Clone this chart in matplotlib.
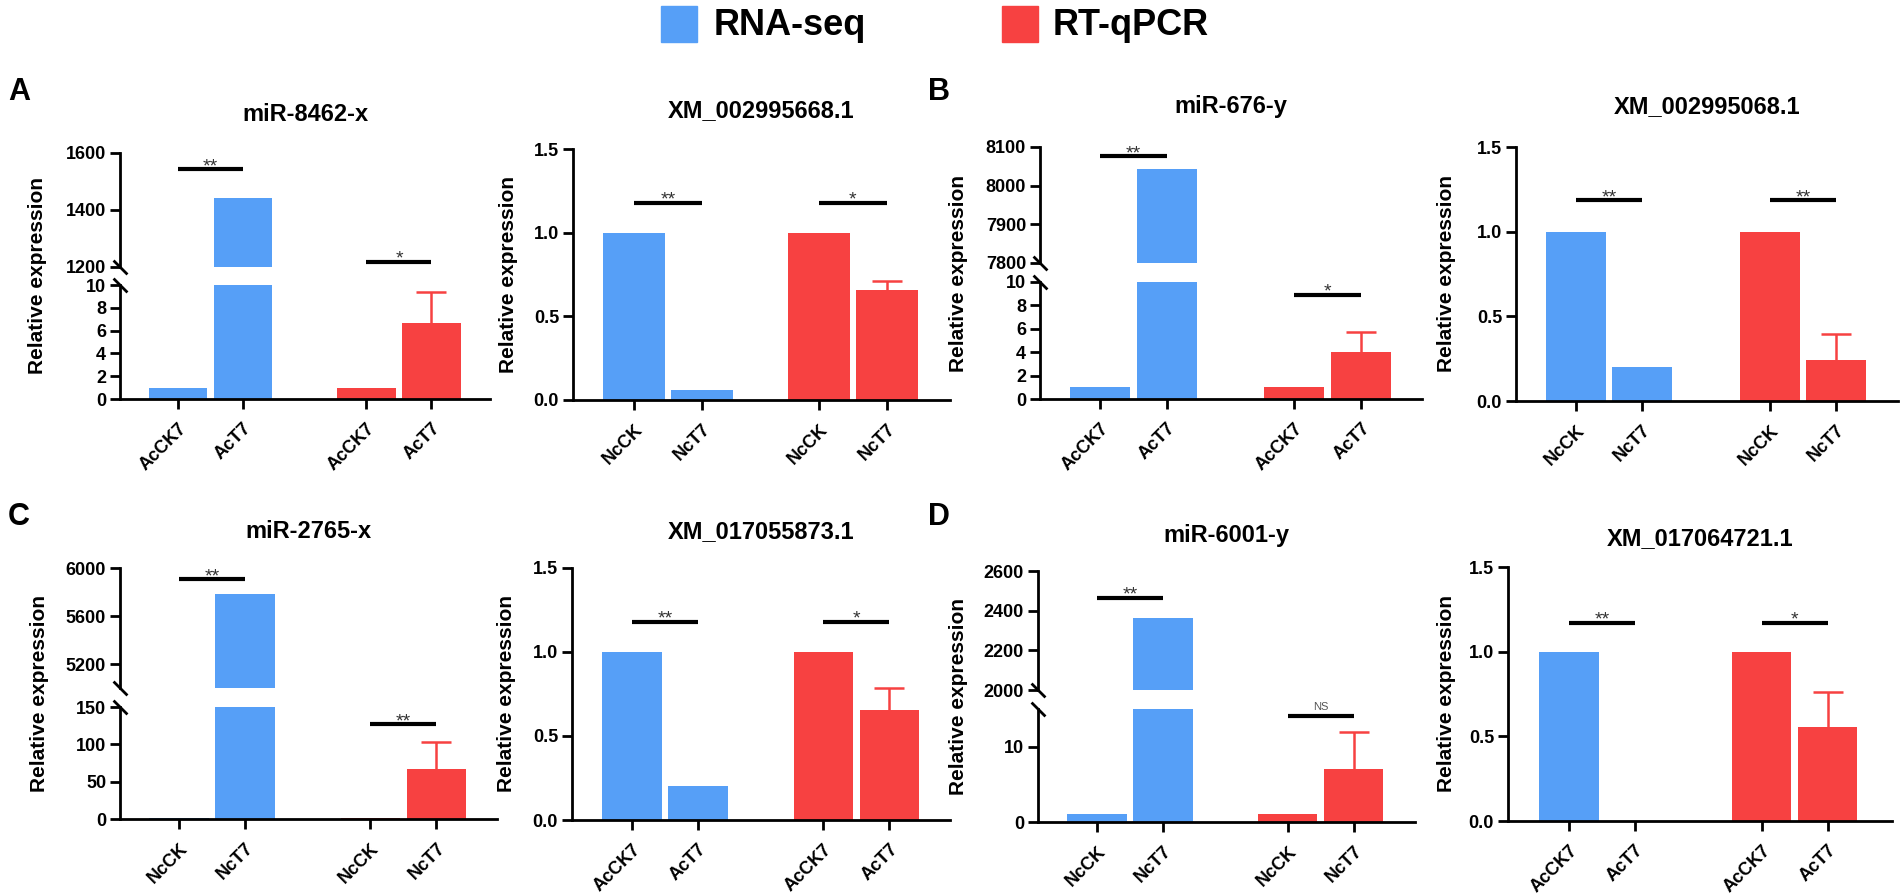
import matplotlib
matplotlib.use('Agg')
import matplotlib.pyplot as plt
from matplotlib.patches import Rectangle

plt.rcParams['font.family'] = ['Liberation Sans', 'DejaVu Sans']
plt.rcParams['font.weight'] = 'bold'

W, H = 1904, 896
BLUE = '#569ff7'
RED = '#f74141'

# ---- data ----
titles = ['miR-8462-x', 'XM_002995668.1', 'miR-676-y', 'XM_002995068.1',
          'miR-2765-x', 'XM_017055873.1', 'miR-6001-y', 'XM_017064721.1']
groups = [['AcCK7', 'AcT7'], ['NcCK', 'NcT7'], ['AcCK7', 'AcT7'], ['NcCK', 'NcT7'],
          ['NcCK', 'NcT7'], ['AcCK7', 'AcT7'], ['NcCK', 'NcT7'], ['AcCK7', 'AcT7']]
rnaseq = [[1, 1442], [1, 0.06], [1, 8043], [1, 0.2],
          [1, 5783], [1, 0.2], [1, 2365], [1, 0]]
qpcr = [[1, 6.7], [1, 0.66], [1, 4.0], [1, 0.24],
        [1, 67], [1, 0.655], [1, 7.07], [1, 0.555]]
qpcr_err = [2.7, 0.05, 1.7, 0.155, 36, 0.13, 4.93, 0.207]
sig_rnaseq = ['**', '**', '**', '**', '**', '**', '**', '**']
sig_qpcr = ['*', '*', '*', '**', '**', '*', 'NS', '*']
sig_y_rnaseq = [1544, 1.18, 8077, 1.187, 5908, 1.18, 2465, 1.17]
sig_y_qpcr = [1218, 1.18, 8.9, 1.187, 127, 1.18, 14.1, 1.17]

ylim_low = [(0, 10), (0, 1.5), (0, 10), (0, 1.5), (0, 150), (0, 1.5), (0, 15), (0, 1.5)]
ylim_up = [(1200, 1600), None, (7800, 8100), None, (5000, 6000), None, (2000, 2600), None]
yticks_low = [[0, 2, 4, 6, 8, 10], [0, 0.5, 1.0, 1.5], [0, 2, 4, 6, 8, 10], [0, 0.5, 1.0, 1.5],
              [0, 50, 100, 150], [0, 0.5, 1.0, 1.5], [0, 10], [0, 0.5, 1.0, 1.5]]
yticks_up = [[1200, 1400, 1600], None, [7800, 7900, 8000, 8100], None,
             [5200, 5600, 6000], None, [2000, 2200, 2400, 2600], None]

# ---- layout in pixels ----
# spine x, right end x, x of first tick, px per unit, group offset,
# top y, bottom y, upper-part bottom y, lower-part top y, title baseline y, ylabel x
geom = [
    (120, 490, 178, 65, 1.9, 153, 399, 267, 285, 121, 38),
    (573, 950, 634, 68, 1.72, 149, 400, None, None, 117, 508),
    (1040, 1422, 1100, 67, 1.9, 147, 399, 263, 282, 113, 958),
    (1516, 1898, 1576, 66, 1.94, 147, 401, None, None, 113, 1447),
    (120, 497, 179, 66, 1.9, 568, 819, 688, 707, 538, 40),
    (572, 950, 632, 66, 1.9, 568, 820, None, None, 538, 507),
    (1038, 1415, 1097, 66, 1.89, 571, 822, 690, 709, 542, 958),
    (1508, 1892, 1569, 66, 1.92, 567, 821, None, None, 545, 1447),
]

fig = plt.figure(figsize=(W / 100, H / 100), dpi=100)


def add_ax(x0, y0, x1, y1):
    return fig.add_axes([x0 / W, 1 - y1 / H, (x1 - x0) / W, (y1 - y0) / H])


def fmt(v, ticks):
    if max(ticks) <= 1.5:
        return '%.1f' % v
    return '%d' % v


def style(ax, show_bottom):
    for s in ['top', 'right']:
        ax.spines[s].set_visible(False)
    ax.spines['left'].set_linewidth(2)
    ax.spines['bottom'].set_linewidth(2)
    ax.tick_params(axis='y', length=7, width=2, labelsize=13, pad=3)
    if show_bottom:
        ax.tick_params(axis='x', length=7, width=2, labelsize=13, pad=8)
    else:
        ax.spines['bottom'].set_visible(False)
        ax.tick_params(axis='x', bottom=False, labelbottom=False)


for i in range(8):
    sx, rx, t0, unit, gap, top, bot, ub, lt, ty, lx = geom[i]
    pos = [0, 1, gap + 1, gap + 2]
    xlim = ((sx - t0) / unit, (rx - t0) / unit)

    if ylim_up[i] is None:
        ax_low = add_ax(sx, top, rx, bot)
        axes = [ax_low]
    else:
        ax_up = add_ax(sx, top, rx, ub)
        ax_low = add_ax(sx, lt, rx, bot)
        axes = [ax_up, ax_low]

    for ax in axes:
        ax.bar(pos[:2], rnaseq[i], width=0.9, color=BLUE)
        ax.bar(pos[2:], qpcr[i], width=0.9, color=RED)
        # upper half of the error bar only, with a cap
        m, e = qpcr[i][1], qpcr_err[i]
        ax.plot([pos[3], pos[3]], [m, m + e], color=RED, lw=1.8, solid_capstyle='butt')
        ax.plot([pos[3]], [m + e], marker='_', markersize=21, mew=1.8, color=RED)
        ax.set_xlim(*xlim)

    ax_low.set_ylim(*ylim_low[i])
    ax_low.set_yticks(yticks_low[i])
    ax_low.set_yticklabels([fmt(v, yticks_low[i]) for v in yticks_low[i]])
    ax_low.set_xticks(pos)
    ax_low.set_xticklabels(groups[i] * 2, rotation=45, ha='right', va='top',
                           rotation_mode='anchor')
    style(ax_low, True)

    if ylim_up[i] is not None:
        ax_up.set_ylim(*ylim_up[i])
        ax_up.set_yticks(yticks_up[i])
        ax_up.set_yticklabels(['%d' % v for v in yticks_up[i]])
        style(ax_up, False)
        # break marks on the y axis
        brk = dict(marker=[(-1, 1), (1, -1)], markersize=10, linestyle='none',
                   color='k', mec='k', mew=2, clip_on=False)
        ax_up.plot([0], [0], transform=ax_up.transAxes, **brk)
        ax_low.plot([0], [1], transform=ax_low.transAxes, **brk)

    # significance bars
    for (a, b), lab, y in [((pos[0], pos[1]), sig_rnaseq[i], sig_y_rnaseq[i]),
                           ((pos[2], pos[3]), sig_qpcr[i], sig_y_qpcr[i])]:
        if ylim_up[i] is not None and y > ylim_low[i][1]:
            ax = ax_up
        else:
            ax = ax_low
        ax.plot([a, b], [y, y], color='k', lw=3, solid_capstyle='butt', clip_on=False)
        if lab == 'NS':
            ax.annotate(lab, xy=((a + b) / 2, y), xytext=(0, 4), textcoords='offset points',
                        ha='center', va='baseline', fontsize=8, fontweight='normal',
                        color='#555555', annotation_clip=False)
        else:
            ax.annotate(lab, xy=((a + b) / 2, y), xytext=(0, -1.5), textcoords='offset points',
                        ha='center', va='baseline', fontsize=14, fontweight='normal',
                        color='#333333', annotation_clip=False)

    # title and y label
    fig.text((sx + rx) / 2 / W, 1 - ty / H, titles[i], ha='center', va='baseline',
             fontsize=17, fontweight='bold')
    fig.text(lx / W, 1 - (top + bot) / 2 / H, 'Relative expression', rotation=90,
             ha='center', va='center', fontsize=15, fontweight='bold')

# panel letters
for lab, x, y in [('A', 8, 100), ('B', 928, 100), ('C', 8, 525), ('D', 928, 525)]:
    fig.text(x / W, 1 - y / H, lab, ha='left', va='baseline', fontsize=22, fontweight='bold')

# legend
for col, x0, txt, tx in [(BLUE, 661, 'RNA-seq', 714), (RED, 1002, 'RT-qPCR', 1053)]:
    fig.patches.append(Rectangle((x0 / W, 1 - 42 / H), 36 / W, 36 / H, color=col,
                                 transform=fig.transFigure, figure=fig))
    fig.text(tx / W, 1 - 35 / H, txt, ha='left', va='baseline', fontsize=26, fontweight='bold')

fig.savefig('out.png', dpi=100)
